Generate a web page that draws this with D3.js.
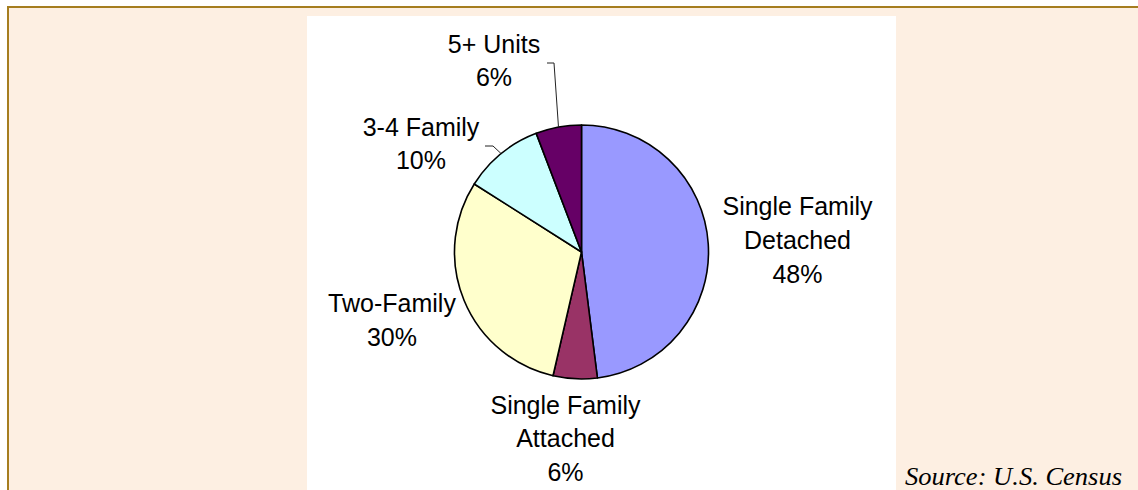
<!DOCTYPE html>
<html lang="en">
<head>
    <meta charset="utf-8" />
    <title> housing units by type </title>
    <script src="https://cdn.jsdelivr.net/npm/d3@7/dist/d3.min.js"></script>
    <style>
        body { margin: 0px; background: #ffffff; }
        svg { display: block; }
    </style>
</head>
<body>

<div id="main-window"></div>

<script>

    // slices, clockwise from 12 o'clock
    var categories = ['Single Family Detached', 'Single Family Attached', 'Two-Family', '3-4 Family', '5+ Units'];
    var values = [48.0, 5.6, 30.4, 10.2, 5.8];
    var colors = ['#9999ff', '#993366', '#ffffcc', '#ccffff', '#660066'];
    var labelLines = [['Single Family', 'Detached'], ['Single Family', 'Attached'], ['Two-Family'], ['3-4 Family'], ['5+ Units']];
    var sourceText = 'Source: U.S. Census';

    function main() {

        var width = 1138, height = 490;

        var svg = d3.select('#main-window').append('svg')
                .attr('width', width)
                .attr('height', height);

        // outer panel with gold border
        svg.append('rect')
                .attr('x', 8).attr('y', 7)
                .attr('width', width + 20).attr('height', height + 20)
                .style('fill', '#fdefe2')
                .style('stroke', '#a57d1f')
                .style('stroke-width', 2);

        // white chart area
        svg.append('rect')
                .attr('x', 307).attr('y', 16)
                .attr('width', 589).attr('height', height)
                .style('fill', '#ffffff');

        var cx = 581.5, cy = 252, r = 127;

        var pie = d3.pie().sort(null).value(function(d) { return d; });
        var arcs = pie(values);
        var arc = d3.arc().innerRadius(0).outerRadius(r);

        var g = svg.append('g').attr('transform', 'translate(' + cx + ',' + cy + ')');

        g.selectAll('path.slice')
                .data(arcs)
                .enter().append('path')
                .attr('class', 'slice')
                .attr('d', arc)
                .style('fill', function(d, i) { return colors[i]; })
                .style('stroke', '#000000')
                .style('stroke-width', 1.6)
                .style('stroke-linejoin', 'round');

        // label placement (center x, first baseline), page coords
        var labelPos = [
            [797.5, 215],
            [565.5, 413.5],
            [392, 312],
            [421, 135.5],
            [494, 52.5]
        ];
        var lineStep = 33.8;
        var pct = d3.format('.0f');

        labelPos.forEach(function(p, i) {
            var lines = labelLines[i].concat([pct(values[i]) + '%']);
            var t = svg.append('text')
                    .attr('x', p[0]).attr('y', p[1])
                    .attr('text-anchor', 'middle')
                    .style('font-family', '"Liberation Sans", Arial, sans-serif')
                    .style('font-size', '25px')
                    .style('fill', '#000000');
            lines.forEach(function(s, k) {
                t.append('tspan')
                        .attr('x', p[0])
                        .attr('y', p[1] + k * lineStep)
                        .text(s);
            });
        });

        // leader lines for the small top slices
        var leaders = [
            { i: 3, from: [485, 146], elbow: [493, 146] },
            { i: 4, from: [547, 63], elbow: [554, 63] }
        ];
        leaders.forEach(function(l) {
            var a = arcs[l.i];
            var mid = (a.startAngle + a.endAngle) / 2;
            var end = [cx + r * Math.sin(mid), cy - r * Math.cos(mid)];
            svg.append('path')
                    .attr('d', d3.line()([l.from, l.elbow, end]))
                    .style('fill', 'none')
                    .style('stroke', '#222222')
                    .style('stroke-width', 1);
        });

        svg.append('text')
                .attr('x', 1122).attr('y', 485)
                .attr('text-anchor', 'end')
                .attr('textLength', 217)
                .attr('lengthAdjust', 'spacingAndGlyphs')
                .style('font-family', '"Palatino Linotype", "Book Antiqua", Palatino, "Liberation Serif", serif')
                .style('font-style', 'italic')
                .style('font-size', '25px')
                .style('fill', '#000000')
                .text(sourceText);
    }

    main();

</script>

</body>
</html>
